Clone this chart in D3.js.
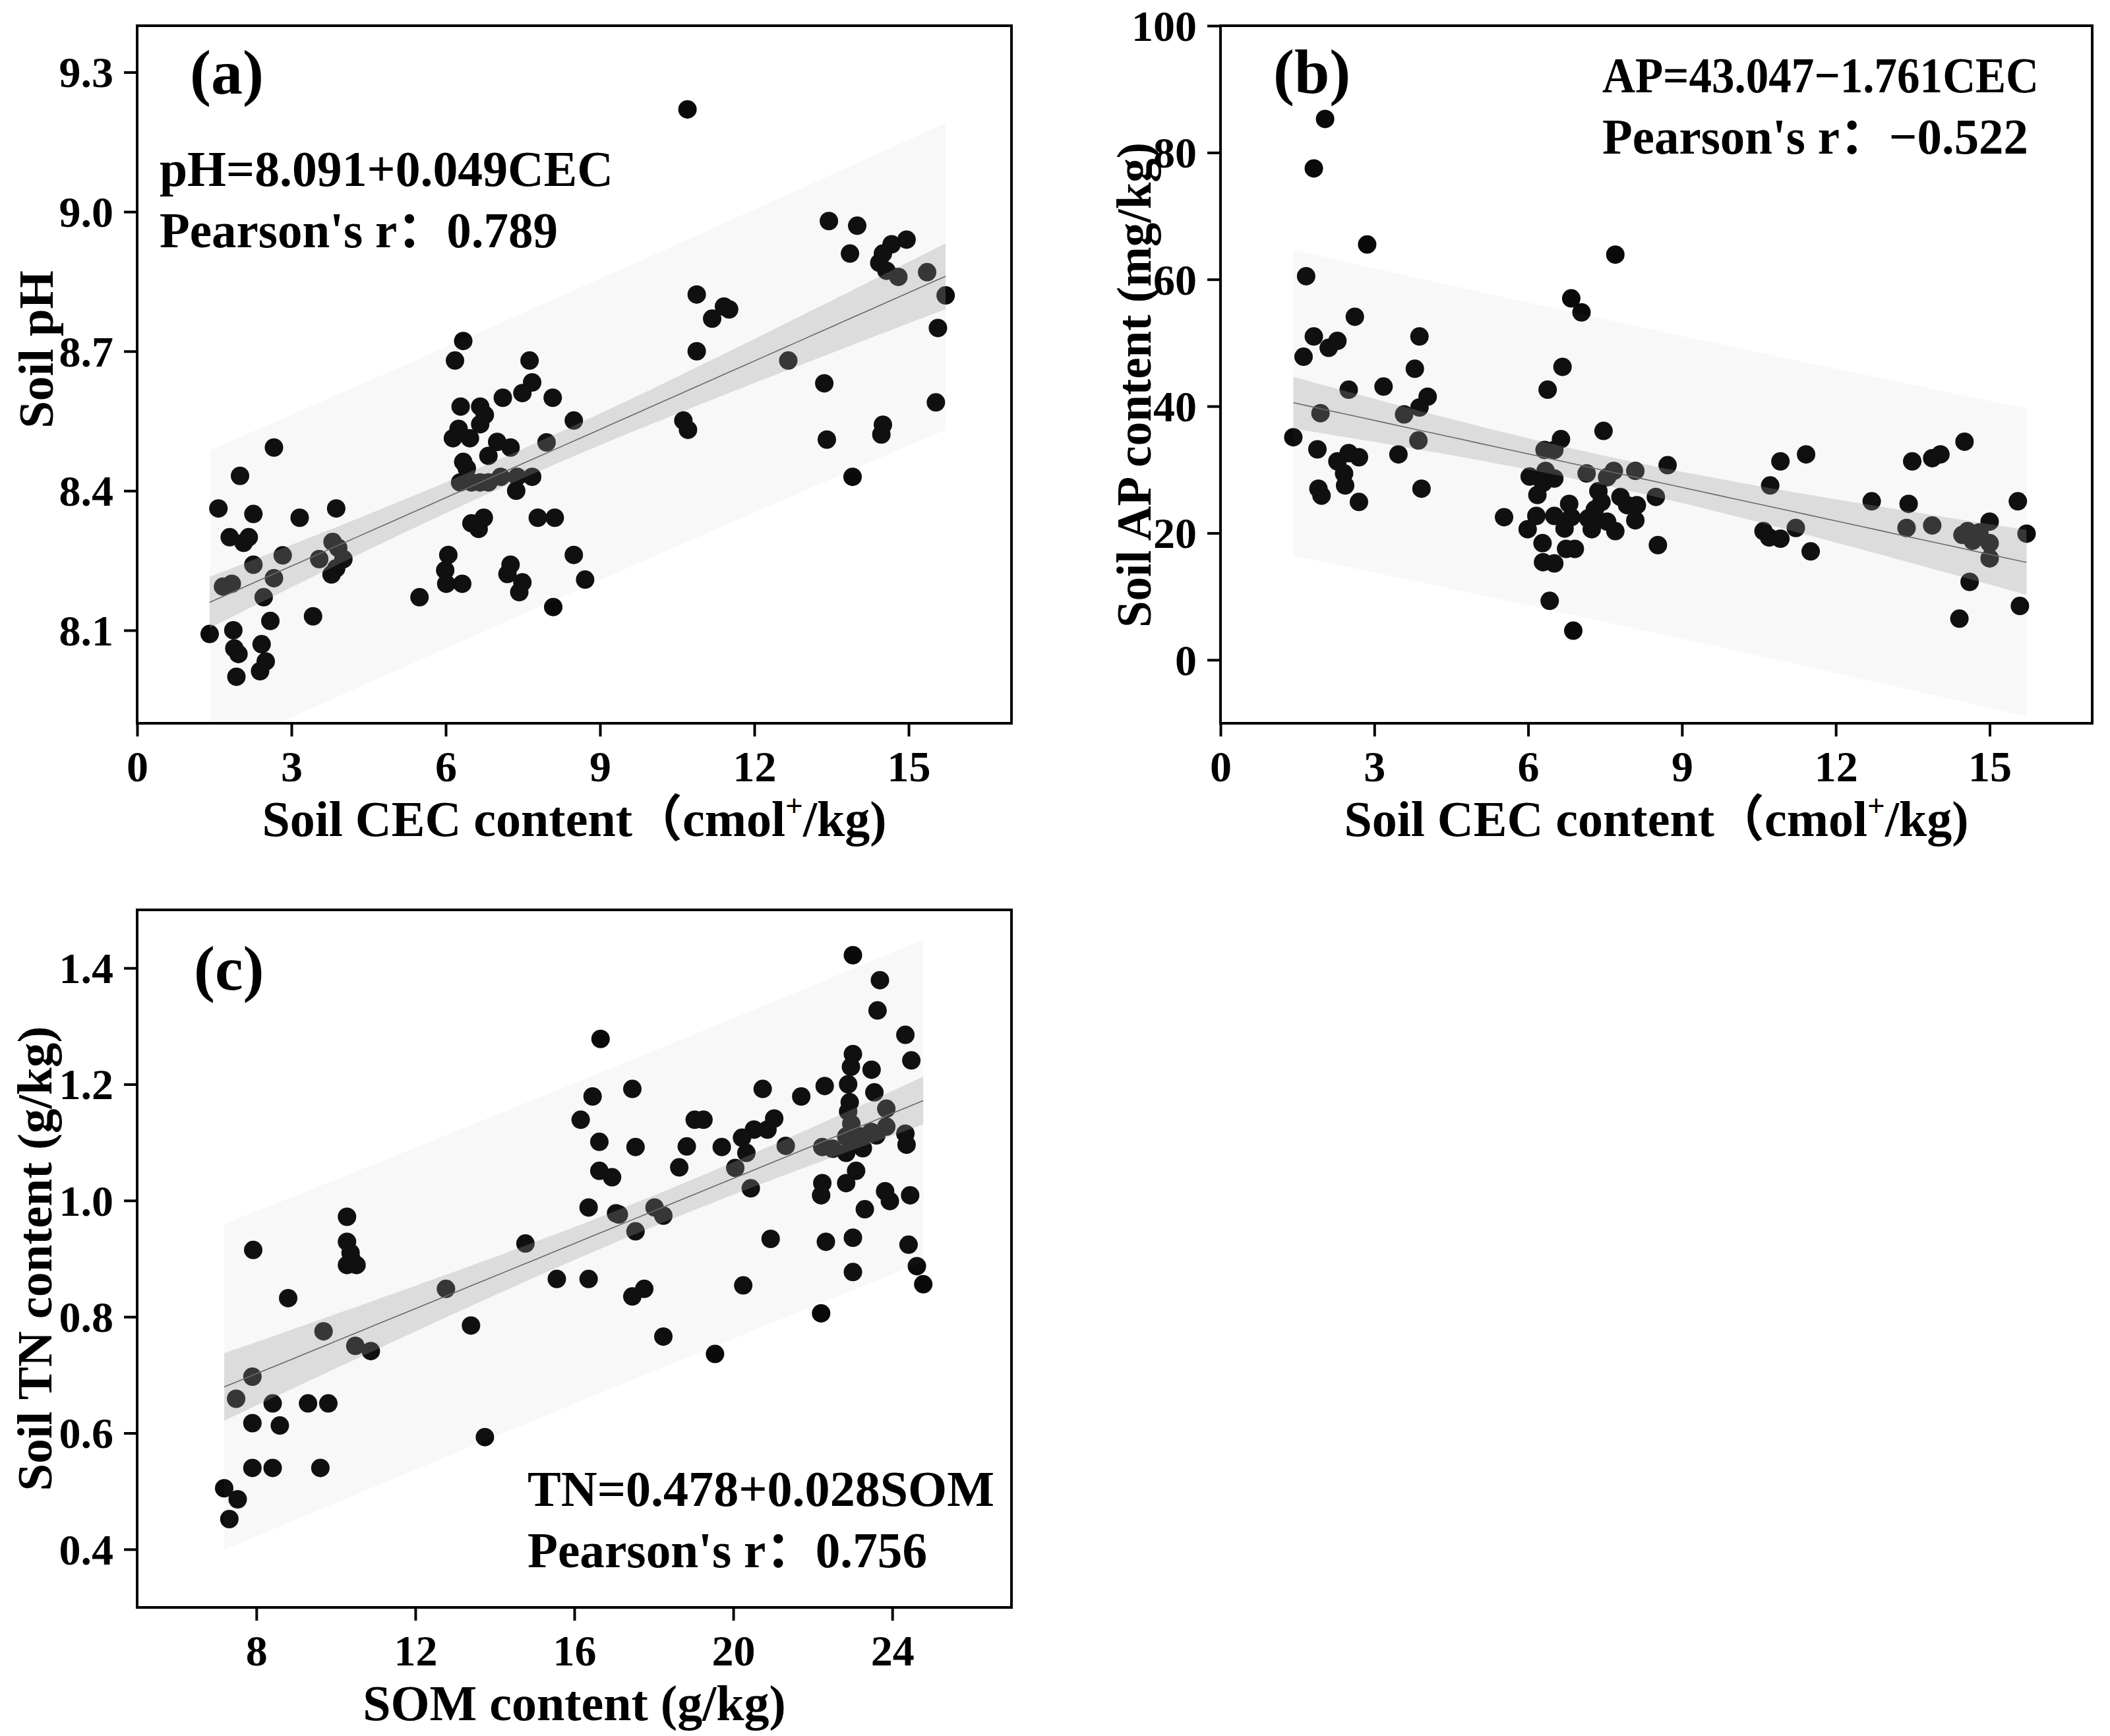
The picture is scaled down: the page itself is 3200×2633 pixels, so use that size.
<!DOCTYPE html>
<html>
<head>
<meta charset="utf-8">
<script src="https://cdn.jsdelivr.net/npm/d3@7/dist/d3.min.js"></script>
<style>
  body { margin: 0; background: #fff; }
  text { font-family: "Liberation Serif", "Noto Sans CJK SC", serif; font-weight: bold; fill: #000; }
</style>
</head>
<body>
<svg id="chart" width="3200" height="2633"></svg>
<script>
// (a) soil CEC vs pH
const aCEC = [10.7, 13.45, 14.0, 13.86, 14.96, 14.67, 14.5, 14.43, 14.57, 14.8, 15.36, 15.72, 15.57, 15.53,
  10.88, 11.41, 11.51, 11.18, 10.88, 12.66, 10.62, 10.71, 13.36, 13.41, 14.5, 14.47, 13.91,
  6.34, 6.18, 7.63, 7.68, 7.49, 7.11, 8.08, 6.29, 6.67, 6.76, 6.67, 8.49, 6.25, 6.14, 6.47, 7.0, 7.26, 7.96,
  6.83, 6.34, 6.41, 6.28, 6.5, 6.67, 6.83, 7.07, 7.39, 7.68, 7.37, 6.74, 6.5, 6.64, 7.79, 8.12, 6.05, 5.99,
  6.01, 6.32, 7.26, 7.2, 7.49, 7.43, 8.49, 8.71, 5.49, 8.09,
  2.66, 2.0, 1.58, 2.26, 3.16, 3.87, 1.8, 2.17, 2.07, 3.8, 3.91, 2.83, 3.54, 4.01, 2.26, 3.87, 3.78, 2.66,
  1.84, 1.67, 2.46, 3.42, 2.59, 1.41, 1.87, 1.89, 1.97, 2.42, 2.5, 2.39, 1.93];
const aPH = [9.22, 8.98, 8.97, 8.91, 8.94, 8.93, 8.91, 8.89, 8.873, 8.86, 8.87, 8.82, 8.75, 8.59,
  8.822, 8.796, 8.79, 8.77, 8.70, 8.68, 8.551, 8.531, 8.631, 8.51, 8.542, 8.521, 8.43,
  8.722, 8.68, 8.68, 8.633, 8.61, 8.60, 8.60, 8.581, 8.581, 8.563, 8.543, 8.551, 8.533, 8.513, 8.513, 8.505, 8.493, 8.504,
  8.475, 8.462, 8.448, 8.418, 8.418, 8.418, 8.418, 8.43, 8.43, 8.43, 8.40, 8.342, 8.33, 8.318, 8.342, 8.342, 8.262, 8.229,
  8.20, 8.20, 8.241, 8.221, 8.203, 8.182, 8.262, 8.209, 8.171, 8.15,
  8.493, 8.432, 8.362, 8.35, 8.342, 8.362, 8.30, 8.30, 8.288, 8.29, 8.277, 8.261, 8.253, 8.253, 8.241, 8.233, 8.22, 8.212,
  8.20, 8.194, 8.171, 8.13, 8.12, 8.092, 8.10, 8.061, 8.049, 8.07, 8.033, 8.012, 8.0];

// (b) soil CEC vs available P
const bCEC = [2.04, 1.82, 2.86, 7.7, 1.67, 6.84, 7.04, 2.62, 3.88, 1.82, 2.28, 2.11, 1.62, 6.67, 3.79, 3.18,
  2.5, 6.38, 4.04, 3.88, 1.95, 3.58, 7.47, 1.42, 3.86, 6.64, 14.51, 1.89, 3.47, 6.51, 6.32, 11.42, 13.49,
  13.88, 14.04, 10.92, 2.28, 2.5, 2.7, 8.72, 8.09, 7.67, 7.14, 6.03, 6.34, 6.51, 7.54, 2.41, 6.29, 10.72,
  7.37, 2.43, 1.91, 3.92, 1.97, 6.18, 7.8, 8.49, 12.7, 15.55, 6.8, 7.43, 13.42, 2.7, 7.93, 8.12, 7.3, 6.51,
  6.16, 5.53, 6.84, 7.17, 7.3, 8.09, 7.54, 15.0, 13.88, 13.38, 11.22, 5.99, 6.71, 7.24, 7.7, 10.59, 15.72,
  14.47, 14.57, 14.8, 10.7, 10.92, 15.0, 14.67, 6.28, 8.53, 6.74, 6.91, 11.51, 6.29, 6.51, 15.0, 14.61,
  6.42, 15.59, 14.41, 6.88];
const bAP = [85.3, 77.5, 65.5, 63.9, 60.5, 57.0, 54.8, 54.1, 51.0, 51.0, 50.3, 49.2, 47.8, 46.2, 45.9, 43.1,
  42.6, 42.6, 41.5, 39.8, 38.9, 38.7, 36.1, 35.1, 34.6, 34.8, 34.4, 33.2, 32.4, 33.1, 33.1, 32.4, 31.3,
  31.8, 32.4, 31.3, 31.3, 32.6, 31.95, 30.7, 29.8, 29.8, 29.4, 28.9, 29.8, 28.6, 28.8, 29.4, 27.9, 27.5,
  26.6, 27.5, 27.0, 27.0, 25.9, 26.0, 25.7, 25.7, 25.0, 25.0, 24.6, 24.9, 24.6, 24.9, 24.4, 24.4, 23.7, 22.7,
  22.7, 22.5, 22.5, 22.3, 22.3, 22.0, 21.8, 21.8, 21.2, 20.8, 20.8, 20.6, 20.7, 20.6, 20.3, 20.3, 19.9,
  19.7, 20.3, 20.1, 19.3, 19.1, 18.4, 18.8, 18.4, 18.1, 17.5, 17.5, 17.1, 15.4, 15.2, 16.0, 12.3,
  9.3, 8.5, 6.5, 4.6];

// (c) SOM vs total N
const cSOM = [23.01, 23.69, 23.63, 24.33, 16.66, 23.01, 24.48, 22.96, 23.48, 22.89, 22.3, 17.46, 20.74, 23.55,
  21.71, 16.46, 22.93, 23.85, 22.89, 16.16, 19.03, 19.25, 21.03, 22.97, 23.85, 20.86, 20.52, 23.47, 24.33,
  20.22, 22.84, 23.06, 23.23, 23.6, 24.36, 16.63, 21.32, 17.54, 18.83, 19.71, 22.24, 22.5, 23.26, 22.84,
  20.33, 20.05, 18.64, 16.63, 23.09, 16.95, 22.24, 22.84, 20.44, 23.82, 22.21, 24.45, 23.94, 16.36, 23.31,
  18.02, 17.05, 17.12, 18.24, 10.28, 17.54, 23.01, 20.94, 22.33, 10.28, 14.77, 24.41, 10.37, 7.92, 10.4,
  10.28, 10.52, 24.62, 23.01, 15.56, 16.36, 24.78, 20.25, 12.77, 17.76, 17.46, 8.8, 22.21, 13.4, 9.69,
  18.24, 10.49, 10.88, 19.54, 7.9, 7.49, 8.41, 9.3, 9.81, 7.9, 8.59, 13.75, 7.9, 8.41, 9.61, 7.19, 7.53, 7.32];
const cTN = [1.422, 1.379, 1.327, 1.285, 1.278, 1.252, 1.241, 1.23, 1.225, 1.2, 1.197, 1.192, 1.192, 1.186,
  1.179, 1.179, 1.169, 1.158, 1.153, 1.139, 1.139, 1.139, 1.141, 1.132, 1.127, 1.122, 1.122, 1.118, 1.115,
  1.108, 1.11, 1.106, 1.11, 1.112, 1.096, 1.101, 1.094, 1.092, 1.093, 1.092, 1.092, 1.089, 1.09, 1.082,
  1.082, 1.056, 1.057, 1.051, 1.051, 1.04, 1.03, 1.03, 1.021, 1.016, 1.009, 1.009, 0.999, 0.988, 0.985,
  0.988, 0.978, 0.976, 0.974, 0.972, 0.947, 0.936, 0.934, 0.929, 0.929, 0.926, 0.924, 0.91, 0.915, 0.898,
  0.889, 0.889, 0.887, 0.877, 0.865, 0.865, 0.856, 0.854, 0.848, 0.848, 0.835, 0.832, 0.806, 0.785, 0.775,
  0.766, 0.75, 0.741, 0.736, 0.697, 0.659, 0.651, 0.651, 0.651, 0.617, 0.613, 0.593, 0.54, 0.54, 0.54, 0.505, 0.486, 0.452];

// tick labels
const cecTicks = [0, 3, 6, 9, 12, 15];
const phTicks = [8.1, 8.4, 8.7, 9.0, 9.3];
const apTicks = [0, 20, 40, 60, 80, 100];
const somTicks = [8, 12, 16, 20, 24];
const tnTicks = [0.4, 0.6, 0.8, 1.0, 1.2, 1.4];

// fitted equations (intercept, slope) and text
const fitA = [8.091, 0.049], fitB = [43.047, -1.761], fitC = [0.478, 0.028];
const eqA = ["pH=8.091+0.049CEC", "Pearson's r：0.789"];
const eqB = ["AP=43.047\u22121.761CEC", "Pearson's r：\u22120.522"];
const eqC = ["TN=0.478+0.028SOM", "Pearson's r：0.756"];

const svg = d3.select("#chart");

// regression confidence / prediction bands from the points and the fitted line
function bands(xs, ys, fit) {
    const n = xs.length;
    const xbar = d3.mean(xs);
    const sxx = d3.sum(xs, x => (x - xbar) ** 2);
    const sse = d3.sum(xs, (x, i) => (ys[i] - (fit[0] + fit[1] * x)) ** 2);
    const s = Math.sqrt(sse / (n - 2));
    const t = 1.98;
    const [lo, hi] = d3.extent(xs);
    return d3.range(0, 41).map(k => {
        const x = lo + (hi - lo) * k / 40;
        const yh = fit[0] + fit[1] * x;
        const h = 1 / n + (x - xbar) ** 2 / sxx;
        return { x, y: yh, ci: t * s * Math.sqrt(h), pi: t * s * Math.sqrt(1 + h) };
    });
}

function drawPanel(p) {
    const g = svg.append("g");
    const x = d3.scaleLinear().domain(p.xDomain).range([p.x0, p.x1]);
    const y = d3.scaleLinear().domain(p.yDomain).range([p.y1, p.y0]);

    const clipId = "clip-" + p.id;
    svg.append("clipPath").attr("id", clipId)
        .append("rect")
        .attr("x", p.x0).attr("y", p.y0)
        .attr("width", p.x1 - p.x0).attr("height", p.y1 - p.y0);

    const plot = g.append("g").attr("clip-path", `url(#${clipId})`);

    // points first, bands are drawn over them
    plot.selectAll("circle")
        .data(p.xs.map((v, i) => [v, p.ys[i]]))
        .enter()
        .append("circle")
        .attr("cx", d => x(d[0]))
        .attr("cy", d => y(d[1]))
        .attr("r", 14)
        .attr("fill", "#0a0a0a");

    const band = bands(p.xs, p.ys, p.fit);

    plot.append("path")
        .datum(band)
        .attr("fill", "#808080")
        .attr("fill-opacity", 0.055)
        .attr("d", d3.area().x(d => x(d.x)).y0(d => y(d.y - d.pi)).y1(d => y(d.y + d.pi)));

    plot.append("path")
        .datum(band)
        .attr("fill", "#989898")
        .attr("fill-opacity", 0.29)
        .attr("d", d3.area().x(d => x(d.x)).y0(d => y(d.y - d.ci)).y1(d => y(d.y + d.ci)).curve(d3.curveMonotoneX));

    plot.append("path")
        .datum(band)
        .attr("fill", "none")
        .attr("stroke", "#6a6a6a")
        .attr("stroke-width", 1.6)
        .attr("d", d3.line().x(d => x(d.x)).y(d => y(d.y)));

    // frame
    g.append("rect")
        .attr("x", p.x0).attr("y", p.y0)
        .attr("width", p.x1 - p.x0).attr("height", p.y1 - p.y0)
        .attr("fill", "none")
        .attr("stroke", "#000")
        .attr("stroke-width", 4);

    // axes
    const xAxis = g.append("g")
        .attr("transform", `translate(0,${p.y1})`)
        .call(d3.axisBottom(x).tickValues(p.xTicks).tickSize(20).tickPadding(20).tickFormat(d3.format("d")));
    const yAxis = g.append("g")
        .attr("transform", `translate(${p.x0},0)`)
        .call(d3.axisLeft(y).tickValues(p.yTicks).tickSize(20).tickPadding(16).tickFormat(p.yFormat));
    [xAxis, yAxis].forEach(a => {
        a.select(".domain").remove();
        a.selectAll(".tick line").attr("stroke", "#000").attr("stroke-width", 4);
        a.selectAll(".tick text")
            .attr("font-family", "Liberation Serif")
            .attr("font-weight", "bold")
            .attr("font-size", 66)
            .attr("fill", "#000");
    });
    xAxis.selectAll(".tick text").attr("dy", "0.72em");
    yAxis.selectAll(".tick text").attr("dy", "0.34em");

    // panel tag
    g.append("text")
        .attr("x", p.x0 + p.tagDx)
        .attr("y", p.y0 + p.tagDy)
        .attr("font-size", 96)
        .text(p.tag);

    // equation and correlation
    p.eq.forEach((line, i) => {
        g.append("text")
            .attr("x", p.eqX)
            .attr("y", p.eqY + i * 93)
            .attr("font-size", 76)
            .attr("textLength", p.eqLen[i])
            .attr("lengthAdjust", "spacingAndGlyphs")
            .text(line);
    });

    // x label
    const xl = g.append("text")
        .attr("x", (p.x0 + p.x1) / 2)
        .attr("y", p.y1 + 171)
        .attr("text-anchor", "middle")
        .attr("font-size", 76);
    if (p.cecLabel) {
        xl.append("tspan").text("Soil CEC content（cmol");
        xl.append("tspan").attr("font-size", 47).attr("dy", -30).text("+");
        xl.append("tspan").attr("dy", 30).text("/kg)");
    } else {
        xl.text(p.xLabel);
    }

    // y label
    g.append("text")
        .attr("transform", `translate(${p.x0 - p.yLabelDx},${(p.y0 + p.y1) / 2 - p.yLabelUp}) rotate(-90)`)
        .attr("text-anchor", "middle")
        .attr("font-size", p.yLabelSize)
        .text(p.yLabel);
}

drawPanel({
    id: "a", x0: 208, x1: 1534, y0: 39, y1: 1097,
    xDomain: [0, 17], yDomain: [7.9, 9.4],
    xs: aCEC, ys: aPH, fit: fitA,
    xTicks: cecTicks, yTicks: phTicks, yFormat: d3.format(".1f"),
    tag: "(a)", tagDx: 80, tagDy: 103,
    eq: eqA, eqX: 242, eqY: 282, eqLen: [688, 604],
    cecLabel: true, yLabel: "Soil pH", yLabelDx: 128, yLabelUp: 38, yLabelSize: 75
});

drawPanel({
    id: "b", x0: 1851, x1: 3173, y0: 39, y1: 1097,
    xDomain: [0, 17], yDomain: [-10, 100],
    xs: bCEC, ys: bAP, fit: fitB,
    xTicks: cecTicks, yTicks: apTicks, yFormat: d3.format("d"),
    tag: "(b)", tagDx: 80, tagDy: 102,
    eq: eqB, eqX: 2430, eqY: 140, eqLen: [662, 646],
    cecLabel: true, yLabel: "Soil AP content (mg/kg)", yLabelDx: 106, yLabelUp: -16, yLabelSize: 73
});

drawPanel({
    id: "c", x0: 208, x1: 1534, y0: 1380, y1: 2438,
    xDomain: [5, 27], yDomain: [0.3, 1.5],
    xs: cSOM, ys: cTN, fit: fitC,
    xTicks: somTicks, yTicks: tnTicks, yFormat: d3.format(".1f"),
    tag: "(c)", tagDx: 86, tagDy: 121,
    eq: eqC, eqX: 800, eqY: 2284, eqLen: [708, 606],
    cecLabel: false, xLabel: "SOM content (g/kg)", yLabel: "Soil TN content (g/kg)", yLabelDx: 130, yLabelUp: 0, yLabelSize: 75
});
</script>
</body>
</html>
